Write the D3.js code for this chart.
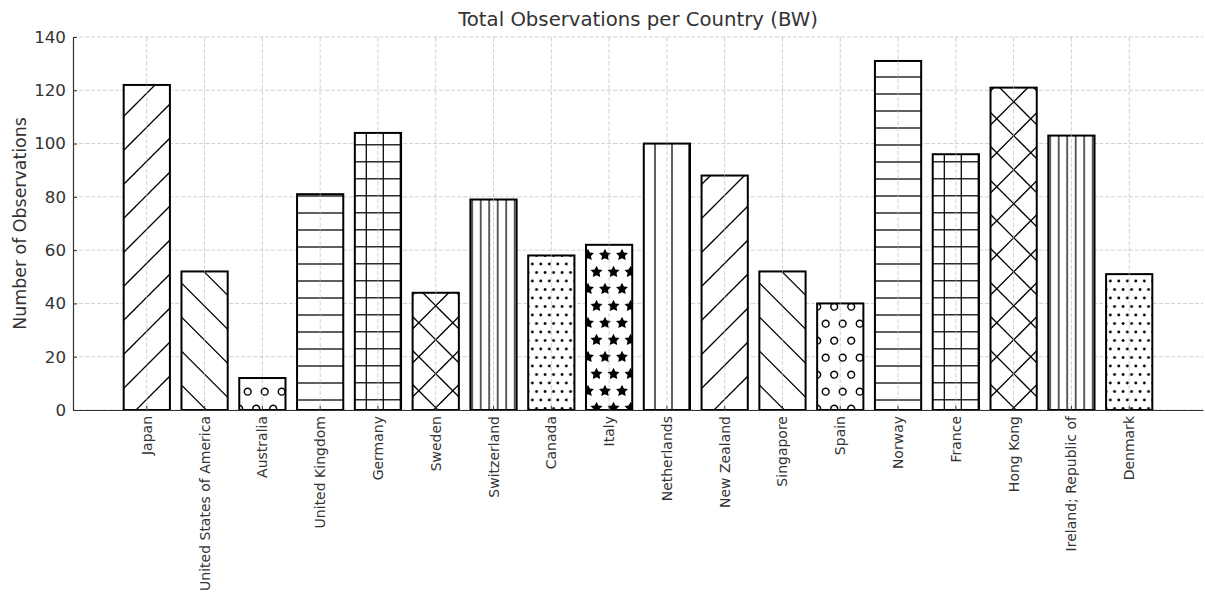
<!DOCTYPE html>
<html>
<head>
<meta charset="utf-8">
<script src="https://cdn.jsdelivr.net/npm/d3@7"></script>
<style>
  html, body { margin: 0; padding: 0; background: #fff; }
  svg { display: block; }
  text { font-family: "DejaVu Sans", sans-serif; fill: #333; }
</style>
</head>
<body>
<svg id="chart" width="1205" height="593"></svg>
<script>
// ---- data ----
const countries = ["Japan", "United States of America", "Australia", "United Kingdom", "Germany",
  "Sweden", "Switzerland", "Canada", "Italy", "Netherlands", "New Zealand", "Singapore",
  "Spain", "Norway", "France", "Hong Kong", "Ireland; Republic of", "Denmark"];
const observations = [122, 52, 12, 81, 104, 44, 79, 58, 62, 100, 88, 52, 40, 131, 96, 121, 103, 51];
const yTicks = [0, 20, 40, 60, 80, 100, 120, 140];
const hatchCycle = ["/", "\\", "o", "-", "+", "x", "||", "..", "*", "|"];
const titleText = "Total Observations per Country (BW)";
const yLabelText = "Number of Observations";

// ---- layout ----
const mLeft = 73, mRight = 1203, mTop = 37, mBottom = 410;

const svg = d3.select("#chart");
const defs = svg.append("defs");

const x = d3.scaleBand().domain(countries).range([mLeft, mRight])
  .paddingInner(0.2).paddingOuter(0.877);
const y = d3.scaleLinear().domain([0, 140]).range([mBottom, mTop]);

// ---- hatch patterns ----
const HC = "#000", HW = 1.25;
function pat(id, w, h) {
  return defs.append("pattern").attr("id", id).attr("patternUnits", "userSpaceOnUse")
    .attr("x", 0).attr("y", 0).attr("width", w).attr("height", h);
}
function diag(p, period, phase, dir) {
  for (let k = -2; k <= 2; k++) {
    const c = phase + k * period;
    const ln = p.append("line").attr("stroke", HC).attr("stroke-width", HW);
    if (dir === 1) ln.attr("x1", -4).attr("y1", c + 4).attr("x2", period + 4).attr("y2", c - period - 4);
    else ln.attr("x1", -4).attr("y1", c - 4).attr("x2", period + 4).attr("y2", c + period + 4);
  }
}
function hline(p, period, w, phase) {
  for (let k = -1; k <= 1; k++)
    p.append("line").attr("x1", -1).attr("x2", w + 1).attr("y1", phase + k * period).attr("y2", phase + k * period)
      .attr("stroke", HC).attr("stroke-width", HW);
}
function vline(p, period, h, phase) {
  for (let k = -1; k <= 1; k++)
    p.append("line").attr("y1", -1).attr("y2", h + 1).attr("x1", phase + k * period).attr("x2", phase + k * period)
      .attr("stroke", HC).attr("stroke-width", HW);
}
function starPath(cx, cy, R, r) {
  const p = d3.path();
  for (let i = 0; i < 10; i++) {
    const a = -Math.PI / 2 + i * Math.PI / 5;
    const rad = i % 2 === 0 ? R : r;
    const px = cx + rad * Math.cos(a), py = cy + rad * Math.sin(a);
    if (i === 0) p.moveTo(px, py); else p.lineTo(px, py);
  }
  p.closePath();
  return p.toString();
}
function shapes(p, w, h, pts, draw) {
  pts.forEach(([px, py]) => {
    for (let i = -1; i <= 1; i++) for (let j = -1; j <= 1; j++) draw(p, px + i * w, py + j * h);
  });
}
const S = 17; // hatch spacing (px)
const patternIds = {};
function makePattern(h, idx) {
  const id = "hatch" + idx;
  let p;
  switch (h) {
    case "/": p = pat(id, 2 * S, 2 * S); diag(p, 2 * S, 2, 1); break;
    case "\\": p = pat(id, 2 * S, 2 * S); diag(p, 2 * S, 33.6, -1); break;
    case "x": p = pat(id, 2 * S, 2 * S); diag(p, 2 * S, 27.5, 1); diag(p, 2 * S, 6, -1); break;
    case "-": p = pat(id, S, S); hline(p, S, S, 9); break;
    case "|": p = pat(id, S, S); vline(p, S, S, 9); break;
    case "+": p = pat(id, S, S); hline(p, S, S, 8.8); vline(p, S, S, 9.3); break;
    case "||": p = pat(id, S / 2, S); vline(p, S / 2, S, 4.7); break;
    case "o": p = pat(id, S, 2 * S);
      shapes(p, S, 2 * S, [[9.7, 17.7], [1.2, 0.7]], (g, cx, cy) =>
        g.append("circle").attr("cx", cx).attr("cy", cy).attr("r", S * 0.2)
          .attr("fill", "none").attr("stroke", HC).attr("stroke-width", HW + 0.2));
      break;
    case "..": p = pat(id, S / 2, S);
      shapes(p, S / 2, S, [[5.3, 9], [1.05, 0.5]], (g, cx, cy) =>
        g.append("circle").attr("cx", cx).attr("cy", cy).attr("r", 1.4).attr("fill", HC));
      break;
    case "*": p = pat(id, S, 2 * S);
      shapes(p, S, 2 * S, [[10, 17], [1.5, 0]], (g, cx, cy) =>
        g.append("path").attr("d", starPath(cx, cy, 6.3, 3.15)).attr("fill", HC));
      break;
  }
  patternIds[h] = id;
}
hatchCycle.forEach((h, i) => makePattern(h, i));

const gridStyle = sel => sel.attr("stroke", "#b8b8b8").attr("stroke-opacity", 0.7)
  .attr("stroke-width", 0.9).attr("stroke-dasharray", "4.2,1.8");

// ---- horizontal grid (behind the bars) ----
svg.append("g").selectAll("line").data(yTicks).join("line")
  .attr("x1", mLeft).attr("x2", mRight)
  .attr("y1", d => y(d)).attr("y2", d => y(d))
  .call(gridStyle);

// ---- bars ----
const data = countries.map((c, i) => ({ c, v: observations[i], h: hatchCycle[i % hatchCycle.length] }));
const bars = svg.append("g");
bars.selectAll("rect.bg").data(data).join("rect")
  .attr("x", d => x(d.c)).attr("width", x.bandwidth())
  .attr("y", d => y(d.v)).attr("height", d => y(0) - y(d.v))
  .attr("fill", "#fff");
bars.append("g").selectAll("rect").data(data).join("rect")
  .attr("x", d => x(d.c)).attr("width", x.bandwidth())
  .attr("y", d => y(d.v)).attr("height", d => y(0) - y(d.v))
  .attr("fill", d => `url(#${patternIds[d.h]})`)
  .attr("stroke", "#000").attr("stroke-width", 2);

// ---- vertical grid (visible through the bars) ----
svg.append("g").selectAll("line").data(countries).join("line")
  .attr("y1", mTop).attr("y2", mBottom)
  .attr("x1", d => x(d) + x.bandwidth() / 2).attr("x2", d => x(d) + x.bandwidth() / 2)
  .call(gridStyle);

// ---- axes ----
const yAxis = svg.append("g").attr("transform", `translate(${mLeft},0)`)
  .call(d3.axisLeft(y).tickValues(yTicks).tickSize(-4).tickSizeOuter(0).tickPadding(7));
yAxis.select(".domain").attr("stroke", "#333").attr("stroke-width", 1.2);
yAxis.selectAll(".tick line").attr("stroke", "#333").attr("stroke-width", 1);
yAxis.selectAll(".tick text").attr("font-size", "16.7px").attr("font-family", "DejaVu Sans").attr("fill", "#333");

const xAxis = svg.append("g").attr("transform", `translate(0,${mBottom})`)
  .call(d3.axisBottom(x).tickSize(-4).tickSizeOuter(0).tickPadding(6));
xAxis.select(".domain").attr("stroke", "#333").attr("stroke-width", 1.2);
xAxis.selectAll(".tick line").attr("stroke", "#333").attr("stroke-width", 1);
xAxis.selectAll(".tick text")
  .attr("font-size", "14px").attr("font-family", "DejaVu Sans").attr("fill", "#333")
  .attr("text-anchor", "end").attr("dy", null).attr("y", null)
  .attr("dominant-baseline", "central")
  .attr("transform", "translate(0,6) rotate(-90)");

// ---- title & label ----
svg.append("text").attr("x", (mLeft + mRight) / 2).attr("y", 26)
  .attr("text-anchor", "middle").attr("font-size", "19.7px").text(titleText);
svg.append("text").attr("transform", `translate(25.5,${(mTop + mBottom) / 2}) rotate(-90)`)
  .attr("text-anchor", "middle").attr("font-size", "17.4px").text(yLabelText);
</script>
</body>
</html>
